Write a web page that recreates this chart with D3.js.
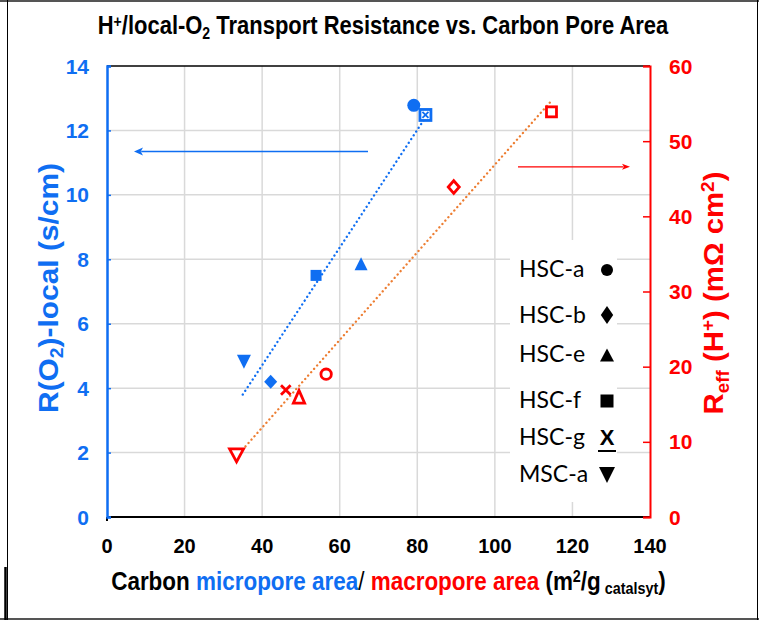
<!DOCTYPE html>
<html><head><meta charset="utf-8">
<script src="https://cdn.jsdelivr.net/npm/d3@7/dist/d3.min.js"></script>
<style>html,body{margin:0;padding:0;background:#fff;}svg{display:block;}</style>
</head><body>
<script>
// ---- data ----
const samples = ["HSC-a", "HSC-b", "HSC-e", "HSC-f", "HSC-g", "MSC-a"];
const shapes = ["circle", "diamond", "triangle", "square", "boxx", "down"];
const microArea = [79.1, 42.2, 65.5, 53.9, 82.1, 35.3];     // x for blue (left axis)
const rO2Local = [12.78, 4.2, 7.86, 7.5, 12.48, 4.82];       // s/cm
const macroArea = [56.5, 89.4, 49.5, 114.6, 46.1, 33.4];     // x for red (right axis)
const rEffH = [19.0, 43.9, 16.0, 53.9, 16.9, 8.2];           // mOhm cm2
const blueTrendX = [35.0, 82.1];
const blueTrendY = [3.8, 12.4];
const redTrendX = [33.4, 114.8];
const redTrendY = [8.05, 55.5];
const xTicks = [0, 20, 40, 60, 80, 100, 120, 140];
const leftTicks = [0, 2, 4, 6, 8, 10, 12, 14];
const rightTicks = [0, 10, 20, 30, 40, 50, 60];

const W = 759, H = 620;
const BLUE = "#0f6ef2", RED = "#ff0000", ORANGE = "#ed7d31", GRID = "#d9d9d9";
const ARIAL = "'Liberation Sans', Arial, sans-serif";
const NARROW = "'Liberation Sans Narrow', 'Arial Narrow', 'Liberation Sans', Arial, sans-serif";

const svg = d3.select("body").append("svg").attr("width", W).attr("height", H);

const x = d3.scaleLinear().domain([0, 140]).range([107, 650]);
const yL = d3.scaleLinear().domain([0, 14]).range([517, 66]);
const yR = d3.scaleLinear().domain([0, 60]).range([517, 66]);

// page frame
svg.append("line").attr("x1", 0).attr("x2", W).attr("y1", 1).attr("y2", 1).attr("stroke", "#555").attr("stroke-width", 2);
svg.append("line").attr("x1", 0).attr("x2", W).attr("y1", 619).attr("y2", 619).attr("stroke", "#555").attr("stroke-width", 2);
svg.append("line").attr("x1", 7.5).attr("x2", 7.5).attr("y1", 0).attr("y2", H).attr("stroke", "#000").attr("stroke-width", 1);
svg.append("line").attr("x1", 757.5).attr("x2", 757.5).attr("y1", 0).attr("y2", H).attr("stroke", "#000").attr("stroke-width", 1);
svg.append("line").attr("x1", 5.5).attr("x2", 5.5).attr("y1", 567).attr("y2", H).attr("stroke", "#000").attr("stroke-width", 2.5);

// gridlines
svg.append("g").selectAll("line").data(xTicks.filter(d => d > 0 && d < 140)).join("line")
  .attr("x1", d => x(d)).attr("x2", d => x(d)).attr("y1", yL(14)).attr("y2", yL(0))
  .attr("stroke", GRID).attr("stroke-width", 1.5);
svg.append("g").selectAll("line").data(leftTicks.filter(d => d > 0 && d < 14)).join("line")
  .attr("x1", x(0)).attr("x2", x(140)).attr("y1", d => yL(d)).attr("y2", d => yL(d))
  .attr("stroke", GRID).attr("stroke-width", 1.5);

// legend background (covers gridlines)
svg.append("rect").attr("x", 510).attr("y", 240).attr("width", 107).attr("height", 262).attr("fill", "#fff");

// frame top & bottom
svg.append("line").attr("x1", x(0)).attr("x2", x(140)).attr("y1", yL(14)).attr("y2", yL(14)).attr("stroke", "#000").attr("stroke-width", 1.5);
svg.append("line").attr("x1", x(0)).attr("x2", x(140)).attr("y1", yL(0)).attr("y2", yL(0)).attr("stroke", "#000").attr("stroke-width", 2);
svg.append("line").attr("x1", x(0)).attr("x2", x(0)).attr("y1", yL(0)).attr("y2", yL(0) + 4).attr("stroke", "#000").attr("stroke-width", 2);

// left axis
const gL = svg.append("g").attr("transform", `translate(${x(0)},0)`)
  .call(d3.axisLeft(yL).tickValues(leftTicks).tickSize(-4).tickFormat(""));
gL.select(".domain").attr("stroke", BLUE).attr("stroke-width", 2.5);
gL.selectAll(".tick line").attr("stroke", BLUE).attr("stroke-width", 1.5);
svg.append("g").selectAll("text").data(leftTicks).join("text")
  .attr("x", 89).attr("y", d => yL(d) + 7.5).attr("text-anchor", "end")
  .attr("font-family", ARIAL).attr("font-weight", "bold").attr("font-size", 21).attr("fill", BLUE)
  .text(d => d);

// right axis
const gR = svg.append("g").attr("transform", `translate(${x(140)},0)`)
  .call(d3.axisRight(yR).tickValues(rightTicks).tickSize(-7).tickFormat(""));
gR.select(".domain").attr("stroke", RED).attr("stroke-width", 2);
gR.selectAll(".tick line").attr("stroke", RED).attr("stroke-width", 1.5);
svg.append("g").selectAll("text").data(rightTicks).join("text")
  .attr("x", 669).attr("y", d => yR(d) + 7.5).attr("text-anchor", "start")
  .attr("font-family", ARIAL).attr("font-weight", "bold").attr("font-size", 21).attr("fill", RED)
  .text(d => d);

// x tick labels
svg.append("g").selectAll("text").data(xTicks).join("text")
  .attr("x", d => x(d)).attr("y", 553).attr("text-anchor", "middle")
  .attr("font-family", ARIAL).attr("font-weight", "bold").attr("font-size", 20).attr("fill", "#000")
  .text(d => d);

// helper to fit text width
function fitText(t, cx, cy, rot, target) {
  const w = t.node().getComputedTextLength();
  t.attr("transform", `translate(${cx},${cy}) rotate(${rot}) scale(${target / w},1)`);
}

// title
const title = svg.append("text").attr("x", 0).attr("y", 0).attr("text-anchor", "middle")
  .attr("font-family", NARROW).attr("font-weight", "bold").attr("font-size", 25).attr("fill", "#000");
title.append("tspan").text("H");
title.append("tspan").attr("font-size", 16).attr("baseline-shift", "7").text("+");
title.append("tspan").text("/local-O");
title.append("tspan").attr("font-size", 16).attr("baseline-shift", "-5").text("2");
title.append("tspan").text(" Transport Resistance vs. Carbon Pore Area");
fitText(title, 383, 34, 0, 571);

// x axis title
const xt = svg.append("text").attr("x", 0).attr("y", 0).attr("text-anchor", "middle")
  .attr("font-family", NARROW).attr("font-weight", "bold").attr("font-size", 25).attr("fill", "#000");
xt.append("tspan").text("Carbon ");
xt.append("tspan").attr("fill", BLUE).text("micropore area");
xt.append("tspan").attr("font-weight", "normal").attr("font-family", ARIAL).text("/");
xt.append("tspan").attr("fill", RED).text(" macropore area");
xt.append("tspan").text(" (m");
xt.append("tspan").attr("font-size", 16).attr("baseline-shift", "8").text("2");
xt.append("tspan").text("/g");
xt.append("tspan").attr("font-size", 16).attr("baseline-shift", "-4").text(" catalsyt");
xt.append("tspan").text(")");
fitText(xt, 388.5, 590, 0, 555);

// left axis title
const lt = svg.append("text").attr("x", 0).attr("y", 0).attr("text-anchor", "middle")
  .attr("font-family", ARIAL).attr("font-weight", "bold").attr("font-size", 28).attr("fill", BLUE);
lt.append("tspan").text("R(O");
lt.append("tspan").attr("font-size", 18).attr("baseline-shift", "-5").text("2");
lt.append("tspan").text(")-local (s/cm)");
fitText(lt, 58, 288, -90, 250);

// right axis title
const rt = svg.append("text").attr("x", 0).attr("y", 0).attr("text-anchor", "middle")
  .attr("font-family", ARIAL).attr("font-weight", "bold").attr("font-size", 28).attr("fill", RED);
rt.append("tspan").text("R");
rt.append("tspan").attr("font-size", 18).attr("baseline-shift", "-6").text("eff");
rt.append("tspan").text(" (H");
rt.append("tspan").attr("font-size", 18).attr("baseline-shift", "9").text("+");
rt.append("tspan").text(") (mΩ cm");
rt.append("tspan").attr("font-size", 18).attr("baseline-shift", "9").text("2");
rt.append("tspan").text(")");
fitText(rt, 723, 293, -90, 243);

// trend lines
const lineL = d3.line().x(d => x(d[0])).y(d => yL(d[1]));
const lineR = d3.line().x(d => x(d[0])).y(d => yR(d[1]));
svg.append("path").attr("d", lineL(d3.zip(blueTrendX, blueTrendY)))
  .attr("stroke", BLUE).attr("stroke-width", 2.3).attr("fill", "none")
  .attr("stroke-linecap", "round").attr("stroke-dasharray", "0.1 4.4");
svg.append("path").attr("d", lineR(d3.zip(redTrendX, redTrendY)))
  .attr("stroke", ORANGE).attr("stroke-width", 2.3).attr("fill", "none")
  .attr("stroke-linecap", "round").attr("stroke-dasharray", "0.1 4.4");

// arrows
function arrow(x1, x2, y, color, sw, hl, hw) {
  const dir = Math.sign(x2 - x1);
  svg.append("line").attr("x1", x1).attr("x2", x2 - dir * hl * 0.8).attr("y1", y).attr("y2", y)
    .attr("stroke", color).attr("stroke-width", sw);
  svg.append("path").attr("d", `M${x2},${y} L${x2 - dir * hl},${y - hw / 2} L${x2 - dir * hl * 0.75},${y} L${x2 - dir * hl},${y + hw / 2} Z`)
    .attr("fill", color);
}
arrow(368, 134, 151.5, BLUE, 1.6, 9, 8);
arrow(518, 630, 166.8, RED, 1.2, 8, 6);

// marker drawer
function marker(g, shape, cx, cy, opts) {
  const { fill, stroke, sw, s } = opts;
  let el;
  switch (shape) {
    case "circle":
      el = g.append("circle").attr("cx", cx).attr("cy", cy).attr("r", s.r); break;
    case "diamond":
      el = g.append("path").attr("d", `M${cx},${cy - s.dh} L${cx + s.dw},${cy} L${cx},${cy + s.dh} L${cx - s.dw},${cy} Z`); break;
    case "triangle":
      el = g.append("path").attr("d", `M${cx},${cy - s.th} L${cx + s.tw},${cy + s.th} L${cx - s.tw},${cy + s.th} Z`); break;
    case "down":
      el = g.append("path").attr("d", `M${cx - s.dtw},${cy - s.dth} L${cx + s.dtw},${cy - s.dth} L${cx},${cy + s.dth} Z`); break;
    case "square":
      el = g.append("rect").attr("x", cx - s.sq).attr("y", cy - s.sq).attr("width", 2 * s.sq).attr("height", 2 * s.sq); break;
    case "x":
      el = g.append("path").attr("d", `M${cx - s.x},${cy - s.x} L${cx + s.x},${cy + s.x} M${cx - s.x},${cy + s.x} L${cx + s.x},${cy - s.x}`)
        .attr("fill", "none"); break;
    case "boxx":
      g.append("rect").attr("x", cx - s.bx).attr("y", cy - s.bx).attr("width", 2 * s.bx).attr("height", 2 * s.bx)
        .attr("fill", "#fff").attr("stroke", stroke || fill).attr("stroke-width", 2.8);
      g.append("path").attr("d", `M${cx - 3},${cy - 3} L${cx + 3},${cy + 3} M${cx - 3},${cy + 3} L${cx + 3},${cy - 3}`)
        .attr("stroke", stroke || fill).attr("stroke-width", 1.8);
      return;
  }
  if (shape !== "x") el.attr("fill", fill);
  if (stroke) el.attr("stroke", stroke).attr("stroke-width", sw).attr("stroke-linejoin", "miter");
}

// blue (filled) markers on left axis
const gB = svg.append("g");
const sizeB = { r: 6.5, dh: 7, dw: 6.5, th: 6.5, tw: 6.5, dtw: 7, dth: 7, sq: 5.5, bx: 5.5 };
samples.forEach((s, i) => {
  marker(gB, shapes[i], x(microArea[i]), yL(rO2Local[i]), { fill: BLUE, s: sizeB });
});

// red (open) markers on right axis
const gRd = svg.append("g");
const sizeR = { r: 5.2, dh: 6.3, dw: 5.5, th: 6.3, tw: 5.6, dtw: 7, dth: 6.5, sq: 5, x: 4.8 };
const redShapes = ["circle", "diamond", "triangle", "square", "x", "down"];
samples.forEach((s, i) => {
  marker(gRd, redShapes[i], x(macroArea[i]), yR(rEffH[i]), { fill: "#fff", stroke: RED, sw: 2.8, s: sizeR });
});

// legend
const legY = [277, 323, 362, 408, 445, 482];
const legSymY = [270, 315, 355, 401, 440, 475];
const gLeg = svg.append("g");
gLeg.selectAll("text.lab").data(samples).join("text").attr("class", "lab")
  .attr("x", 519).attr("y", (d, i) => legY[i])
  .attr("font-family", "Lato, 'Open Sans', sans-serif").attr("font-size", 23).attr("fill", "#000")
  .text(d => d);
const sizeLeg = { r: 6, dh: 9, dw: 6.2, th: 6.5, tw: 7, dtw: 8, dth: 8, sq: 6.5 };
samples.forEach((s, i) => {
  if (shapes[i] === "boxx") {
    gLeg.append("text").attr("x", 607).attr("y", legY[i]).attr("text-anchor", "middle")
      .attr("font-family", ARIAL).attr("font-weight", "bold").attr("font-size", 22).attr("fill", "#000").text("X");
    gLeg.append("line").attr("x1", 598).attr("x2", 616).attr("y1", legY[i] + 6).attr("y2", legY[i] + 6)
      .attr("stroke", "#000").attr("stroke-width", 2);
  } else {
    marker(gLeg, shapes[i], 607, legSymY[i], { fill: "#000", s: sizeLeg });
  }
});
</script>
</body></html>
